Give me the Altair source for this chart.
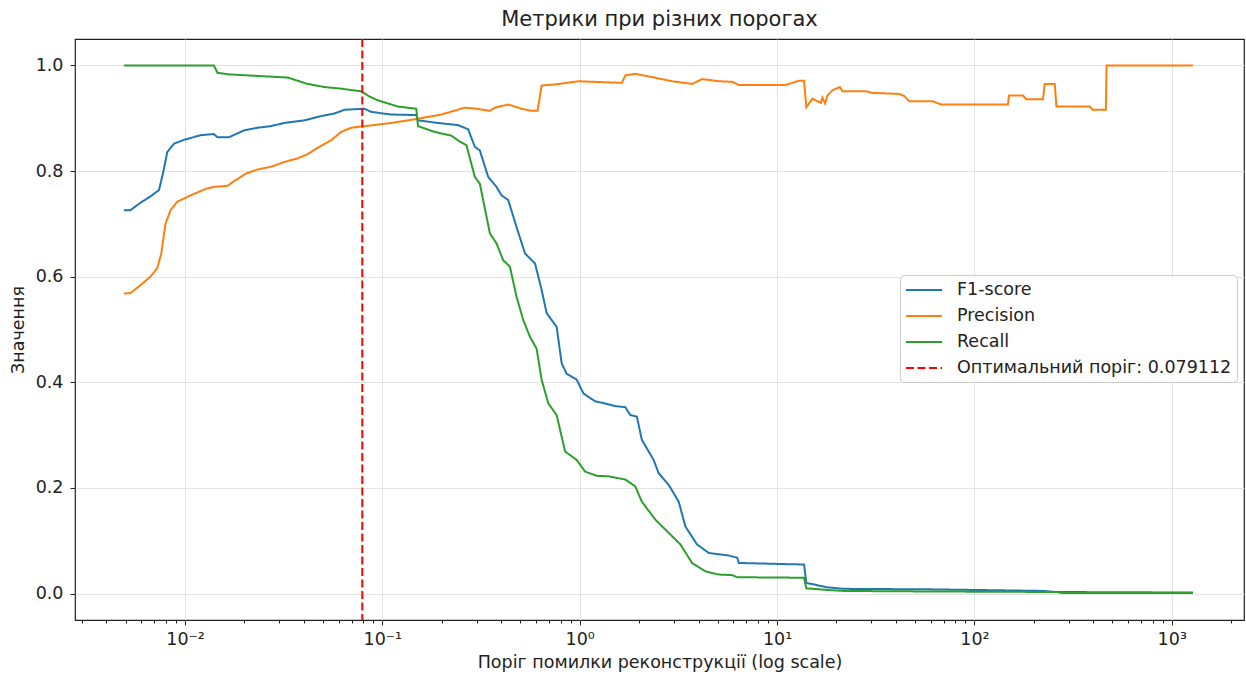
import altair as alt
import pandas as pd

# ---- data ----
F1_X = [0.0049, 0.00529, 0.00595, 0.00668, 0.00738, 0.00776, 0.00813, 0.0088, 0.00988, 0.0120,
        0.0140, 0.0146, 0.0167, 0.0199, 0.0233, 0.0272, 0.0318, 0.0402, 0.0489, 0.0572,
        0.0643, 0.0812, 0.0877, 0.1108, 0.1485, 0.1515, 0.1914, 0.2418, 0.2720, 0.2941,
        0.3118, 0.3437, 0.3787, 0.4016, 0.4342, 0.4785, 0.5281, 0.5935, 0.6412, 0.6798,
        0.7640, 0.8101, 0.8590, 0.9656, 1.044, 1.197, 1.346, 1.514, 1.701, 1.804,
        1.948, 2.065, 2.369, 2.511, 2.823, 3.174, 3.432, 3.931, 4.508, 5.695,
        6.278, 6.404, 13.70, 14.07, 15.10, 17.80, 21.78, 60.0, 150.0, 224.0,
        260.0, 1280.0]
F1_Y = [0.726, 0.726, 0.740, 0.752, 0.764, 0.798, 0.836, 0.852, 0.859, 0.868,
        0.870, 0.864, 0.864, 0.877, 0.882, 0.885, 0.891, 0.896, 0.904, 0.909,
        0.916, 0.918, 0.912, 0.907, 0.906, 0.896, 0.891, 0.887, 0.879, 0.846,
        0.839, 0.789, 0.770, 0.754, 0.745, 0.694, 0.644, 0.625, 0.575, 0.531,
        0.505, 0.436, 0.416, 0.405, 0.379, 0.364, 0.360, 0.355, 0.353, 0.338,
        0.335, 0.291, 0.253, 0.228, 0.206, 0.174, 0.127, 0.093, 0.077, 0.072,
        0.068, 0.058, 0.055, 0.020, 0.018, 0.012, 0.009, 0.008, 0.006, 0.005,
        0.003, 0.002]

PREC_X = [0.0049, 0.00529, 0.00595, 0.00668, 0.00723, 0.00758, 0.00797, 0.00845, 0.00914, 0.01068,
          0.01249, 0.0140, 0.01641, 0.01774, 0.02032, 0.0233, 0.0272, 0.0318, 0.0372, 0.0418,
          0.0470, 0.0549, 0.0618, 0.0694, 0.0812, 0.0949, 0.1108, 0.1457, 0.1990, 0.2617,
          0.3000, 0.3506, 0.3716, 0.4342, 0.5073, 0.5702, 0.6116, 0.6412, 0.7499, 0.9849,
          1.635, 1.701, 1.912, 2.322, 2.935, 3.708, 4.168, 5.068, 5.920, 6.404,
          11.06, 12.92, 13.70, 14.07, 15.10, 16.66, 16.97, 17.51, 17.99, 19.08,
          20.80, 21.45, 28.20, 30.46, 41.63, 44.13, 46.79, 61.45, 67.80, 147.8,
          149.6, 176.2, 183.4, 222.6, 227.1, 255.3, 260.4, 384.5, 396.8, 463.7,
          467.5, 1280.0]
PREC_Y = [0.568, 0.569, 0.584, 0.600, 0.616, 0.644, 0.701, 0.726, 0.742, 0.754,
          0.765, 0.770, 0.772, 0.781, 0.795, 0.803, 0.808, 0.817, 0.824, 0.832,
          0.844, 0.858, 0.874, 0.882, 0.885, 0.888, 0.891, 0.898, 0.907, 0.920,
          0.918, 0.914, 0.920, 0.926, 0.918, 0.914, 0.914, 0.962, 0.964, 0.970,
          0.967, 0.981, 0.984, 0.978, 0.970, 0.965, 0.974, 0.970, 0.969, 0.963,
          0.963, 0.971, 0.971, 0.921, 0.937, 0.929, 0.939, 0.928, 0.943, 0.953,
          0.959, 0.951, 0.951, 0.948, 0.946, 0.942, 0.932, 0.932, 0.926, 0.926,
          0.943, 0.943, 0.936, 0.936, 0.965, 0.965, 0.922, 0.922, 0.916, 0.916,
          1.000, 1.000]

REC_X = [0.0049, 0.0140, 0.0146, 0.0167, 0.0331, 0.0418, 0.0509, 0.0618, 0.0780, 0.0861,
         0.0949, 0.1199, 0.1485, 0.1515, 0.1842, 0.2237, 0.2418, 0.2666, 0.2941, 0.3118,
         0.3506, 0.3787, 0.4097, 0.4429, 0.4785, 0.5174, 0.5597, 0.6045, 0.6412, 0.6934,
         0.7640, 0.8430, 0.9656, 1.065, 1.220, 1.399, 1.701, 1.912, 2.065, 2.416,
         2.823, 3.238, 3.708, 4.337, 5.068, 5.920, 6.278, 13.70, 14.07, 17.80,
         21.78, 60.0, 260.0, 280.0, 1280.0]
REC_Y = [1.000, 1.000, 0.986, 0.983, 0.977, 0.965, 0.959, 0.956, 0.951, 0.941,
         0.934, 0.922, 0.918, 0.885, 0.874, 0.867, 0.858, 0.849, 0.789, 0.776,
         0.682, 0.663, 0.631, 0.619, 0.562, 0.518, 0.486, 0.464, 0.405, 0.360,
         0.338, 0.269, 0.253, 0.231, 0.223, 0.222, 0.216, 0.203, 0.174, 0.140,
         0.115, 0.093, 0.058, 0.042, 0.036, 0.035, 0.031, 0.030, 0.010, 0.007,
         0.005, 0.004, 0.003, 0.001, 0.001]

OPT_THRESHOLD = 0.079112
OPT_LABEL = f"Оптимальний поріг: {OPT_THRESHOLD:.6f}"

SERIES = ["F1-score", "Precision", "Recall", OPT_LABEL]
COLORS = ["#1f77b4", "#ff7f0e", "#2ca02c", "#ff0000"]
DASHES = [[1, 0], [1, 0], [1, 0], [8, 3.5]]

Y_TICKS = [0.0, 0.2, 0.4, 0.6, 0.8, 1.0]
X_DOMAIN = [0.00277, 2323]
Y_DOMAIN = [-0.05, 1.05]

# ---- build tables ----
rows = []
for name, xs, ys in [("F1-score", F1_X, F1_Y), ("Precision", PREC_X, PREC_Y), ("Recall", REC_X, REC_Y)]:
    for i, (x, y) in enumerate(zip(xs, ys)):
        rows.append({"series": name, "threshold": x, "value": y, "idx": i})
df = pd.DataFrame(rows)
rule_df = pd.DataFrame({"series": [OPT_LABEL], "threshold": [OPT_THRESHOLD]})

# log-axis tick positions (major decades + minor 2..9)
x_ticks = []
for e in range(-3, 4):
    for m in range(1, 10):
        v = float(f"{m}e{e}")
        if X_DOMAIN[0] <= v <= X_DOMAIN[1]:
            x_ticks.append(v)

DEC = "abs(log(datum.value)/LN10 - round(log(datum.value)/LN10)) < 1e-6"
EXP = "toString(round(log(datum.value)/LN10))"
LABEL_EXPR = (
    f"({DEC}) ? '10' + replace(replace(replace(replace(replace({EXP}, '-', '⁻'), '0', '⁰'), '1', '¹'), '2', '²'), '3', '³') : ''"
)

FONT = "DejaVu Sans"
TXT = "#222222"
FS = 17.5

x_axis = alt.Axis(
    values=x_ticks,
    labelExpr=LABEL_EXPR,
    labelOverlap=False,
    labelFlush=False,
    tickSize={"condition": {"test": DEC, "value": 5}, "value": 3},
    gridOpacity={"condition": {"test": DEC, "value": 1}, "value": 0},
    title="Поріг помилки реконструкції (log scale)",
    titlePadding=6,
    labelPadding=5,
)
y_axis = alt.Axis(
    values=Y_TICKS,
    format=".1f",
    tickSize=5,
    title="Значення",
    titlePadding=8,
    labelPadding=7,
)

color_scale = alt.Scale(domain=SERIES, range=COLORS)
dash_scale = alt.Scale(domain=SERIES, range=DASHES)
x_scale = alt.Scale(type="log", domain=X_DOMAIN, nice=False)
y_scale = alt.Scale(domain=Y_DOMAIN, nice=False, zero=False)

lines = alt.Chart(df).mark_line(strokeWidth=2).encode(
    x=alt.X("threshold:Q", scale=x_scale, axis=x_axis),
    y=alt.Y("value:Q", scale=y_scale, axis=y_axis),
    color=alt.Color("series:N", scale=color_scale, title=None),
    strokeDash=alt.StrokeDash("series:N", scale=dash_scale, title=None),
    order=alt.Order("idx:Q"),
)

rule = alt.Chart(rule_df).mark_rule(strokeWidth=2).encode(
    x=alt.X("threshold:Q"),
    color=alt.Color("series:N", scale=color_scale, title=None),
    strokeDash=alt.StrokeDash("series:N", scale=dash_scale, title=None),
)

chart = (
    alt.layer(lines, rule)
    .properties(
        width=1169,
        height=581,
        title=alt.TitleParams("Метрики при різних порогах", fontSize=21, fontWeight="normal",
                              font=FONT, color=TXT, anchor="middle", offset=8),
        autosize=alt.AutoSizeParams(type="none"),
        padding={"left": 75, "top": 39, "right": 2, "bottom": 63},
        background="white",
    )
    .configure(font=FONT)
    .configure_view(stroke="#222222", strokeWidth=1.2)
    .configure_axis(
        domain=False,
        gridColor="#e3e3e3",
        gridWidth=1,
        tickColor=TXT,
        tickWidth=1,
        labelFont=FONT,
        labelFontSize=FS,
        labelColor=TXT,
        titleFont=FONT,
        titleFontSize=FS,
        titleFontWeight="normal",
        titleColor=TXT,
    )
    .configure_legend(
        orient="none",
        legendX=825,
        legendY=236,
        strokeColor="#cccccc",
        fillColor="rgba(255,255,255,0.85)",
        cornerRadius=4,
        padding=5,
        labelFont=FONT,
        labelFontSize=FS,
        labelColor=TXT,
        labelOffset=32,
        symbolType="M-1,0H3",
        symbolSize=324,
        symbolStrokeWidth=2,
        rowPadding=7,
        labelLimit=400,
    )
)

chart.save("out.html", embed_options={"renderer": "svg", "actions": False})
